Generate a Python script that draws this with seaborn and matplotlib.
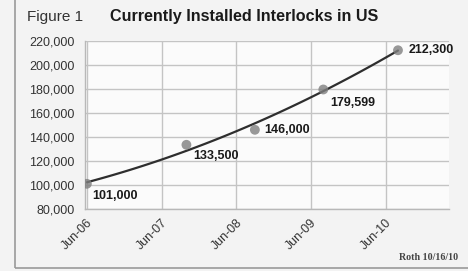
import matplotlib
matplotlib.use("Agg")
import matplotlib.pyplot as plt
import seaborn as sns
import numpy as np
from matplotlib.ticker import FuncFormatter
from matplotlib.patches import Rectangle

# Data
months = [0, 16, 27, 38, 50]          # months since Jun-06
installed = [101000, 133500, 146000, 179599, 212300]
labels = ["101,000", "133,500", "146,000", "179,599", "212,300"]
tick_months = [0, 12, 24, 36, 48]
tick_labels = ["Jun-06", "Jun-07", "Jun-08", "Jun-09", "Jun-10"]
y_ticks = [80000, 100000, 120000, 140000, 160000, 180000, 200000, 220000]

sns.set_style("white")
plt.rcParams['font.family'] = ['Liberation Sans', 'DejaVu Sans']

fig = plt.figure(figsize=(4.68, 2.71), dpi=100)
fig.patch.set_facecolor("#f3f3f3")
# outer frame lines (left and bottom)
fig.add_artist(Rectangle((15/468, 1-268/271), 1.2, 2, transform=fig.transFigure,
                         fill=False, edgecolor="#9a9a9a", linewidth=1.2))

ax = fig.add_axes([85/468, 1-209/271, (449-85)/468, (209-41)/271])
ax.set_facecolor("#fbfbfb")

sns.regplot(x=months, y=installed, order=2, ci=None, ax=ax,
            scatter_kws=dict(s=50, color="#7f7f7f", zorder=3, edgecolor="none"),
            line_kws=dict(color="#2e2e2e", linewidth=1.6, zorder=2))

ax.set_xlim(-0.3, 58.2)
ax.set_ylim(80000, 220000)
ax.set_yticks(y_ticks)
ax.yaxis.set_major_formatter(FuncFormatter(lambda v, p: f"{int(v):,}"))
ax.set_xticks(tick_months)
ax.set_xticklabels(tick_labels, rotation=45, ha="right", rotation_mode="anchor")
ax.grid(True, color="#c4c4c4", linewidth=1.0)
ax.set_axisbelow(True)
for s in ["top", "right"]:
    ax.spines[s].set_visible(False)
for s in ["left", "bottom"]:
    ax.spines[s].set_color("#b8b8b8")
    ax.spines[s].set_linewidth(1.0)
ax.tick_params(axis="y", length=6, color="#c4c4c4", labelsize=9, labelcolor="#333333", pad=1.5)
ax.tick_params(axis="x", length=2.5, color="#c4c4c4", labelsize=9, labelcolor="#333333", pad=3)
ax.set_xlabel("")
ax.set_ylabel("")

offsets = [(4, -9), (5, -8), (7, 0), (5, -10), (8, 0)]
for m, v, lab, off in zip(months, installed, labels, offsets):
    ax.annotate(lab, (m, v), xytext=off, textcoords="offset points",
                fontsize=9, fontweight="bold", color="#1a1a1a", va="center", ha="left")

fig.text(27/468, 1-17/271, "Figure 1", fontsize=11, color="#333333", va="center", ha="left")
fig.text(110/468, 1-16/271, "Currently Installed Interlocks in US", fontsize=11.6,
         fontweight="bold", color="#1a1a1a", va="center", ha="left")
fig.text(458/468, 1-257/271, "Roth 10/16/10", fontsize=7.2, fontweight="bold",
         color="#444444", va="center", ha="right", family=["Liberation Serif", "DejaVu Serif"])

fig.savefig("out.png", dpi=100, facecolor=fig.get_facecolor())
